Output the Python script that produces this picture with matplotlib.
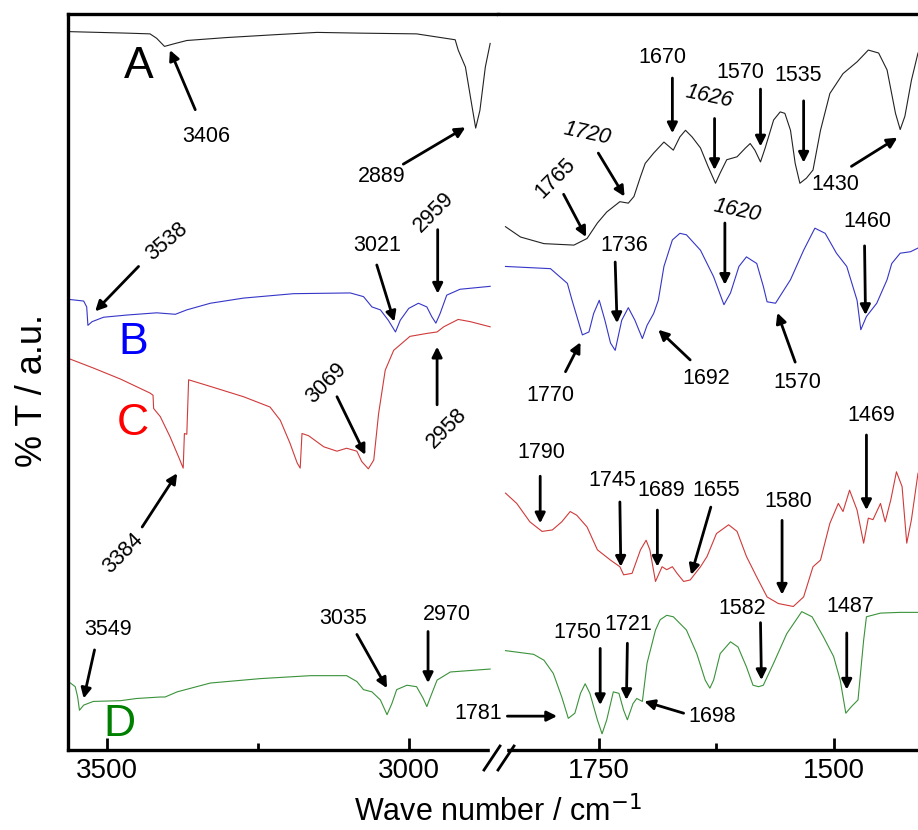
import matplotlib.pyplot as plt
from matplotlib.lines import Line2D
from matplotlib.patches import Rectangle

plt.rcParams['font.family'] = ['Liberation Sans', 'DejaVu Sans']

# ---- spectra, high wavenumber region (cm-1, %T a.u.) ----
wn_A_hi = [3561, 3467, 3429, 3418, 3405, 3387, 3368, 3302, 3219, 3152, 3081, 2987, 2923, 2918,
           2906, 2895, 2889, 2882, 2873, 2865]
t_A_hi = [97.6, 97.4, 97.3, 96.7, 95.6, 96.0, 96.4, 96.8, 97.2, 97.5, 97.4, 97.3, 96.5, 95.1,
          92.8, 87.4, 84.5, 86.9, 92.8, 96.0]

wn_B_hi = [3561, 3539, 3534, 3532, 3525, 3506, 3467, 3418, 3387, 3368, 3329, 3274, 3191, 3097,
           3075, 3061, 3047, 3034, 3022, 3014, 3000, 2984, 2970, 2962, 2955, 2948, 2937, 2915, 2865]
t_B_hi = [61.2, 61.0, 60.2, 57.7, 58.2, 58.8, 59.1, 59.4, 59.2, 59.8, 60.7, 61.4, 62.0, 62.1,
          61.6, 60.2, 59.8, 58.4, 56.8, 58.4, 60.0, 60.7, 60.2, 58.9, 58.0, 59.3, 61.8, 62.6, 63.0]

wn_C_hi = [3561, 3523, 3478, 3429, 3424, 3423, 3412, 3396, 3382, 3374, 3372, 3368, 3365, 3329,
           3274, 3230, 3213, 3197, 3185, 3180, 3177, 3166, 3141, 3119, 3103, 3086, 3078, 3067,
           3058, 3050, 3039, 3025, 2998, 2970, 2953, 2942, 2918, 2898, 2865]
t_C_hi = [53.1, 51.9, 50.4, 48.5, 48.2, 46.4, 45.3, 42.6, 39.9, 38.3, 43.0, 42.9, 50.3, 49.4,
          48.0, 46.6, 44.8, 41.7, 39.0, 38.3, 43.0, 42.7, 41.2, 40.6, 41.0, 40.6, 39.2, 38.2,
          39.4, 45.7, 51.6, 54.3, 56.2, 56.6, 56.8, 57.5, 58.5, 58.2, 57.5]

wn_D_hi = [3561, 3553, 3549, 3546, 3539, 3523, 3478, 3451, 3412, 3404, 3384, 3329, 3246, 3163,
           3103, 3086, 3075, 3061, 3047, 3036, 3028, 3020, 3003, 2987, 2976, 2970, 2964, 2953,
           2931, 2865]
t_D_hi = [9.1, 8.6, 7.2, 5.4, 6.1, 6.6, 6.7, 7.0, 7.2, 7.2, 7.9, 9.1, 9.7, 10.1,
          10.1, 9.3, 8.2, 7.9, 6.8, 4.8, 6.3, 8.2, 8.8, 8.6, 7.0, 5.9, 7.2, 9.5,
          10.6, 11.0]

# ---- spectra, carbonyl / fingerprint region ----
wn_A_lo = [1850, 1834, 1809, 1777, 1763, 1752, 1742, 1728, 1719, 1713, 1706, 1701, 1692, 1681,
           1671, 1664, 1658, 1651, 1642, 1634, 1626, 1621, 1614, 1603, 1594, 1589, 1584, 1578,
           1573, 1564, 1557, 1552, 1546, 1541, 1536, 1529, 1522, 1514, 1504, 1490, 1475, 1463,
           1452, 1443, 1434, 1429, 1424, 1417, 1410]
t_A_lo = [71.1, 69.7, 68.8, 68.6, 69.5, 71.6, 73.1, 74.5, 74.3, 75.2, 77.9, 79.7, 81.1, 82.6,
          81.5, 83.3, 84.2, 83.3, 81.8, 79.3, 77.0, 78.4, 80.2, 80.6, 81.8, 82.4, 81.5, 79.9,
          81.8, 85.6, 86.7, 86.5, 84.2, 79.7, 77.0, 77.7, 78.8, 84.2, 89.2, 91.9, 93.5, 95.1,
          94.7, 92.4, 86.5, 84.3, 86.1, 91.0, 94.7]

wn_B_lo = [1850, 1802, 1784, 1779, 1768, 1761, 1756, 1750, 1744, 1738, 1733, 1726, 1719, 1712,
           1704, 1699, 1692, 1687, 1681, 1672, 1664, 1657, 1642, 1628, 1617, 1610, 1601, 1593,
           1582, 1575, 1571, 1562, 1546, 1532, 1520, 1509, 1497, 1486, 1475, 1471, 1465, 1454,
           1443, 1438, 1429, 1418, 1410]
t_B_lo = [65.7, 65.4, 63.4, 61.1, 56.4, 56.8, 59.3, 61.1, 58.4, 55.3, 54.3, 58.4, 60.1, 58.4,
          55.9, 57.7, 59.3, 61.1, 65.7, 69.3, 70.2, 70.0, 67.9, 64.3, 60.5, 62.1, 65.7, 67.0,
          66.1, 63.0, 60.9, 60.7, 63.9, 67.9, 70.9, 70.2, 67.5, 65.7, 61.1, 57.1, 58.9, 60.7,
          63.9, 66.1, 67.5, 67.7, 68.2]

wn_C_lo = [1850, 1838, 1824, 1811, 1800, 1790, 1781, 1774, 1763, 1752, 1738, 1728, 1724, 1715,
           1706, 1700, 1696, 1690, 1683, 1678, 1672, 1667, 1660, 1653, 1642, 1635, 1625, 1612,
           1603, 1593, 1582, 1571, 1559, 1543, 1532, 1522, 1514, 1504, 1495, 1490, 1483, 1475,
           1468, 1463, 1458, 1450, 1445, 1439, 1433, 1427, 1422, 1417, 1410]
t_C_lo = [34.9, 33.5, 31.0, 29.7, 29.9, 31.0, 32.4, 31.9, 30.3, 27.2, 25.8, 24.9, 23.8, 24.0,
          27.2, 28.5, 27.2, 22.9, 24.9, 24.5, 24.9, 24.0, 22.9, 23.1, 24.9, 26.3, 29.4, 30.6,
          29.7, 26.3, 23.5, 20.8, 19.9, 19.5, 20.8, 24.9, 25.8, 30.8, 33.5, 32.4, 35.3, 32.6,
          28.1, 31.5, 31.3, 33.5, 31.0, 34.0, 37.8, 35.8, 28.1, 31.3, 37.6]

wn_D_lo = [1850, 1820, 1809, 1799, 1790, 1783, 1776, 1770, 1765, 1760, 1752, 1747, 1742, 1735,
           1729, 1724, 1720, 1714, 1710, 1704, 1699, 1690, 1685, 1678, 1671, 1657, 1646, 1637,
           1632, 1628, 1621, 1610, 1602, 1593, 1586, 1580, 1575, 1564, 1550, 1534, 1523, 1511,
           1500, 1493, 1487, 1481, 1474, 1468, 1465, 1450, 1429, 1410]
t_D_lo = [13.5, 13.0, 12.2, 10.4, 7.2, 4.3, 5.0, 7.7, 9.0, 7.7, 4.1, 2.2, 4.1, 7.9,
          7.7, 5.4, 4.1, 6.3, 7.0, 6.6, 11.8, 16.3, 17.7, 18.3, 18.1, 16.3, 13.1, 9.5,
          8.4, 9.5, 13.1, 14.7, 14.0, 11.3, 8.8, 8.6, 8.8, 11.8, 15.8, 18.8, 18.1, 15.4,
          12.7, 9.5, 5.0, 5.9, 6.8, 14.9, 18.1, 18.6, 18.7, 18.7]

names = ['A', 'B', 'C', 'D']
line_colors = ['#222222', '#3535c8', '#d03a3a', '#3a923a']
name_colors = ['black', '#0000ff', '#ff0000', '#008000']

# peak labels: (text, text pos, arrow tail, arrow tip, rotation, italic)
peaks_hi = [
    ('3406', (3335, 83.4), (3354, 87.0), (3396, 95.1), 0, False),
    ('2889', (3045, 77.9), (3009, 79.6), (2906, 84.6), 0, False),
    ('3538', (3401, 69.1), (3448, 65.7), (3520, 59.6), 40, False),
    ('3021', (3053, 68.5), (3053, 65.9), (3024, 58.2), 0, False),
    ('2959', (2958, 73.0), (2952, 70.7), (2952, 62.0), 45, False),
    ('3069', (3136, 49.8), (3119, 48.0), (3072, 40.1), 45, False),
    ('2958', (2937, 43.7), (2953, 46.9), (2953, 54.8), 45, False),
    ('3384', (3473, 26.7), (3442, 30.3), (3384, 37.6), 45, False),
    ('3549', (3498, 16.4), (3521, 13.6), (3539, 7.0), 0, False),
    ('3035', (3109, 17.8), (3086, 15.7), (3036, 8.4), 0, False),
    ('2970', (2937, 18.4), (2968, 16.1), (2968, 9.1), 0, False),
]
peaks_lo = [
    ('1765', (1797, 77.7), (1788, 75.5), (1764, 69.7), 45, False),
    ('1720', (1763, 83.8), (1751, 81.1), (1723, 75.2), -12, True),
    ('1670', (1683, 94.1), (1672, 91.3), (1672, 83.8), 0, False),
    ('1626', (1633, 88.8), (1627, 85.8), (1627, 78.8), -12, True),
    ('1570', (1600, 92.0), (1578, 89.8), (1578, 82.0), 0, False),
    ('1535', (1538, 91.6), (1532, 88.2), (1532, 79.8), 0, False),
    ('1430', (1498, 76.9), (1481, 79.3), (1432, 83.2), 0, False),
    ('1620', (1603, 73.3), (1616, 71.6), (1616, 63.2), -12, True),
    ('1736', (1723, 68.5), (1733, 66.3), (1731, 58.0), 0, False),
    ('1460', (1464, 71.8), (1467, 68.5), (1466, 59.1), 0, False),
    ('1770', (1802, 48.2), (1786, 51.4), (1770, 55.4), 0, False),
    ('1692', (1636, 50.5), (1653, 53.0), (1687, 57.1), 0, False),
    ('1570', (1539, 49.9), (1541, 52.7), (1560, 59.4), 0, False),
    ('1469', (1460, 45.4), (1465, 42.8), (1465, 32.6), 0, False),
    ('1790', (1812, 40.4), (1813, 37.2), (1813, 30.8), 0, False),
    ('1745', (1736, 36.6), (1728, 33.7), (1727, 24.9), 0, False),
    ('1689', (1684, 35.3), (1688, 32.6), (1688, 24.9), 0, False),
    ('1655', (1625, 35.3), (1631, 33.0), (1652, 23.8), 0, False),
    ('1580', (1548, 33.7), (1555, 31.2), (1555, 21.1), 0, False),
    ('1750', (1773, 15.9), (1749, 13.8), (1749, 6.1), 0, False),
    ('1721', (1719, 17.1), (1720, 14.5), (1721, 6.8), 0, False),
    ('1582', (1597, 19.2), (1578, 17.3), (1577, 9.5), 0, False),
    ('1487', (1482, 19.5), (1486, 15.9), (1486, 8.2), 0, False),
    ('1698', (1630, 4.6), (1660, 5.0), (1702, 6.6), 0, False),
    ('1781', (1879, 5.0), (1848, 4.6), (1795, 4.6), 0, False),
]
name_pos = [(3447, 92.8), (3456, 55.4), (3457, 44.4), (3480, 3.4)]

W, H = 918, 830
fig = plt.figure(figsize=(W / 100, H / 100), dpi=100)
x0, xb, x1, ytop, ybot = 68, 498, 918, 14, 750
ax1 = fig.add_axes([x0 / W, 1 - ybot / H, (xb - x0) / W, (ybot - ytop) / H])
ax2 = fig.add_axes([xb / W, 1 - ybot / H, (x1 - xb) / W, (ybot - ytop) / H])

hi = [(wn_A_hi, t_A_hi), (wn_B_hi, t_B_hi), (wn_C_hi, t_C_hi), (wn_D_hi, t_D_hi)]
lo = [(wn_A_lo, t_A_lo), (wn_B_lo, t_B_lo), (wn_C_lo, t_C_lo), (wn_D_lo, t_D_lo)]
for i in range(4):
    ax1.plot(hi[i][0], hi[i][1], color=line_colors[i], lw=0.8)
    ax2.plot(lo[i][0], lo[i][1], color=line_colors[i], lw=0.8)
    ax1.text(name_pos[i][0], name_pos[i][1], names[i], color=name_colors[i], fontsize=32,
             ha='center', va='center')

ax1.set_xlim(3565, 2852)
ax2.set_xlim(1858, 1410)
for ax in (ax1, ax2):
    ax.set_ylim(0, 100)
    ax.set_yticks([])
    for s in ax.spines.values():
        s.set_linewidth(2.4)
    ax.tick_params(axis='x', which='major', direction='in', length=9, width=2, labelsize=20, pad=6)
    ax.tick_params(axis='x', which='minor', direction='in', length=5, width=2)
ax1.spines['right'].set_visible(False)
ax2.spines['left'].set_visible(False)
ax2.spines['right'].set_visible(False)
ax1.set_xticks([3500, 3000])
ax1.set_xticks([3250], minor=True)
ax2.set_xticks([1750, 1500])
ax2.set_xticks([1625], minor=True)


def draw_peaks(ax, peaks):
    for txt, tpos, tail, tip, rot, ital in peaks:
        ax.text(tpos[0], tpos[1], txt, fontsize=15.5, ha='center', va='center', rotation=rot,
                style='italic' if ital else 'normal')
        ax.annotate('', xy=tip, xytext=tail,
                    arrowprops=dict(arrowstyle='-|>', color='black', lw=2,
                                    shrinkA=0, shrinkB=0, mutation_scale=15))


draw_peaks(ax1, peaks_hi)
draw_peaks(ax2, peaks_lo)

# axis break marks
fig.add_artist(Rectangle((490 / W, 1 - 754 / H), 16 / W, 8 / H, transform=fig.transFigure,
                         color='white', zorder=5))
for dx in (0, 14):
    fig.add_artist(Line2D([(484 + dx) / W, (500 + dx) / W], [1 - 770 / H, 1 - 746 / H],
                          transform=fig.transFigure, color='black', lw=2, zorder=6))

fig.text(498 / W, 1 - 812 / H, 'Wave number / cm$^{-1}$', ha='center', va='center', fontsize=22)
fig.text(32 / W, 1 - 390 / H, '% T / a.u.', ha='center', va='center', rotation=90, fontsize=26)

fig.savefig('out.png', dpi=100)
